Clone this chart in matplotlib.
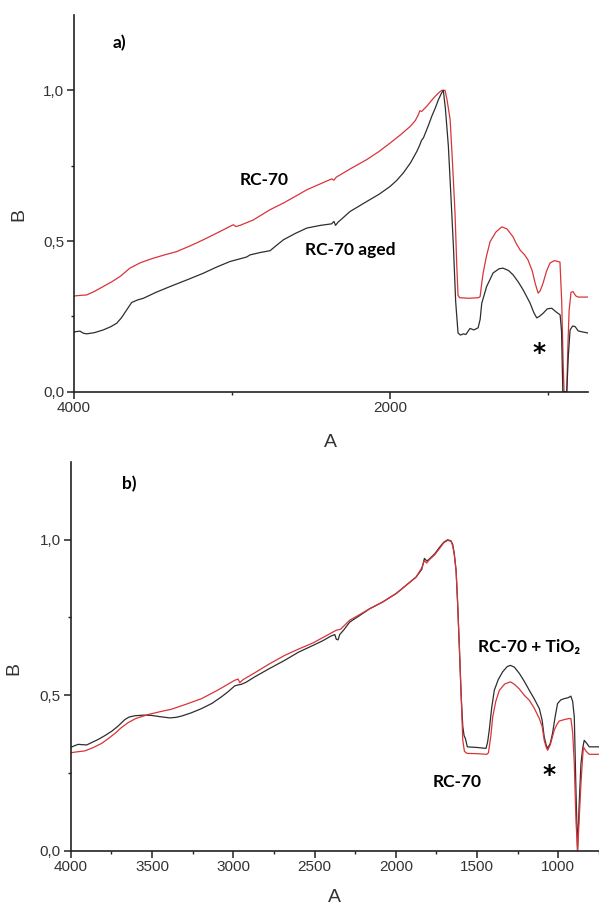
import numpy as np
import matplotlib
matplotlib.use("Agg")
import matplotlib.pyplot as plt
from matplotlib.ticker import FixedLocator, FuncFormatter

# === DATA ===
# panel a) - RC-70 (red) and RC-70 aged (black)
a_red_x = [4000, 3994, 3950, 3920, 3870, 3815, 3760, 3709, 3646, 3580, 3498, 3420, 3350, 3260,
           3182, 3090, 2992, 2975, 2949, 2865, 2759, 2675, 2600, 2527, 2440, 2370, 2355, 2340,
           2250, 2148, 2070, 2000, 1935, 1873, 1840, 1821, 1812, 1800, 1768, 1740, 1715, 1690,
           1673, 1652, 1640, 1620, 1605, 1589, 1578, 1570, 1560, 1500, 1440, 1430, 1420, 1411,
           1390, 1367, 1330, 1293, 1260, 1222, 1200, 1177, 1150, 1127, 1100, 1082, 1063, 1050,
           1032, 1010, 988, 960, 937, 925, 914, 905, 899, 882, 875, 867, 855, 842, 825, 810, 750]
a_red_y = [0.316, 0.318, 0.320, 0.321, 0.333, 0.349, 0.365, 0.382, 0.410, 0.428, 0.443, 0.455, 0.465, 0.485,
           0.504, 0.528, 0.554, 0.548, 0.552, 0.570, 0.604, 0.626, 0.648, 0.670, 0.690, 0.706, 0.702, 0.712,
           0.740, 0.770, 0.797, 0.825, 0.852, 0.880, 0.900, 0.919, 0.932, 0.930, 0.947, 0.965, 0.980, 0.993,
           1.000, 1.000, 0.970, 0.903, 0.760, 0.593, 0.420, 0.320, 0.312, 0.310, 0.312, 0.316, 0.360, 0.394,
           0.450, 0.498, 0.530, 0.547, 0.540, 0.514, 0.490, 0.470, 0.455, 0.437, 0.400, 0.360, 0.327, 0.335,
           0.360, 0.400, 0.427, 0.435, 0.432, 0.430, 0.300, 0.100, 0.000, 0.000, 0.150, 0.270, 0.330, 0.332,
           0.318, 0.314, 0.314]

a_blk_x = [4000, 3994, 3962, 3940, 3920, 3870, 3815, 3770, 3730, 3700, 3667, 3635, 3600, 3561,
           3480, 3392, 3290, 3182, 3100, 3013, 2907, 2886, 2820, 2759, 2720, 2675, 2600, 2527,
           2440, 2370, 2355, 2345, 2330, 2253, 2148, 2070, 2000, 1960, 1916, 1870, 1831, 1815,
           1800, 1789, 1760, 1736, 1715, 1694, 1675, 1663, 1650, 1631, 1615, 1599, 1585, 1570,
           1555, 1535, 1520, 1494, 1470, 1443, 1430, 1420, 1389, 1348, 1310, 1285, 1250, 1222,
           1190, 1158, 1135, 1114, 1090, 1072, 1055, 1032, 1005, 977, 950, 924, 915, 907,
           882, 872, 861, 845, 829, 810, 797, 750]
a_blk_y = [0.195, 0.199, 0.201, 0.194, 0.192, 0.196, 0.205, 0.215, 0.227, 0.245, 0.271, 0.296, 0.304, 0.310,
           0.330, 0.349, 0.370, 0.393, 0.413, 0.432, 0.447, 0.454, 0.462, 0.468, 0.485, 0.504, 0.525, 0.543,
           0.552, 0.557, 0.565, 0.552, 0.562, 0.598, 0.631, 0.655, 0.681, 0.700, 0.726, 0.760, 0.797, 0.815,
           0.835, 0.842, 0.880, 0.914, 0.940, 0.969, 0.990, 1.000, 0.940, 0.814, 0.650, 0.480, 0.300, 0.195,
           0.188, 0.192, 0.190, 0.210, 0.205, 0.212, 0.240, 0.293, 0.349, 0.394, 0.408, 0.410, 0.402, 0.388,
           0.365, 0.338, 0.315, 0.294, 0.262, 0.245, 0.250, 0.260, 0.275, 0.277, 0.265, 0.255, 0.200, 0.000,
           0.000, 0.120, 0.205, 0.218, 0.216, 0.202, 0.200, 0.195]

# panel b) - RC-70 (red) and RC-70 + TiO2 (black)
b_red_x = [4000, 3960, 3912, 3860, 3810, 3770, 3728, 3690, 3646, 3600, 3523, 3450, 3380, 3290,
           3195, 3100, 2991, 2970, 2960, 2940, 2868, 2780, 2684, 2600, 2510, 2440, 2366, 2340,
           2284, 2220, 2161, 2080, 1998, 1940, 1875, 1840, 1824, 1810, 1793, 1760, 1732, 1705,
           1681, 1660, 1650, 1640, 1629, 1620, 1609, 1598, 1588, 1578, 1568, 1560, 1500, 1440,
           1430, 1415, 1404, 1385, 1363, 1330, 1295, 1270, 1240, 1210, 1179, 1150, 1117, 1100,
           1087, 1075, 1066, 1050, 1025, 1010, 995, 960, 935, 923, 912, 902, 892, 882,
           872, 861, 852, 846, 830, 810, 750]
b_red_y = [0.315, 0.318, 0.321, 0.332, 0.345, 0.360, 0.377, 0.395, 0.412, 0.425, 0.438, 0.447, 0.455, 0.471,
           0.489, 0.515, 0.548, 0.552, 0.540, 0.550, 0.572, 0.600, 0.628, 0.648, 0.668, 0.688, 0.709, 0.712,
           0.741, 0.760, 0.778, 0.800, 0.827, 0.852, 0.880, 0.910, 0.933, 0.925, 0.936, 0.952, 0.971, 0.990,
           0.998, 0.995, 0.980, 0.950, 0.900, 0.800, 0.655, 0.500, 0.355, 0.320, 0.315, 0.313, 0.312, 0.310,
           0.315, 0.370, 0.430, 0.480, 0.516, 0.536, 0.543, 0.535, 0.520, 0.500, 0.484, 0.460, 0.425, 0.400,
           0.355, 0.333, 0.323, 0.340, 0.388, 0.405, 0.417, 0.422, 0.425, 0.425, 0.380, 0.280, 0.100, 0.000,
           0.100, 0.216, 0.290, 0.334, 0.320, 0.310, 0.310]

b_blk_x = [4000, 3975, 3953, 3902, 3870, 3830, 3790, 3748, 3710, 3666, 3640, 3605, 3550, 3502,
           3450, 3390, 3350, 3318, 3260, 3195, 3130, 3072, 3030, 2991, 2970, 2950, 2920, 2868,
           2780, 2684, 2600, 2510, 2450, 2400, 2375, 2366, 2355, 2345, 2320, 2284, 2220, 2161,
           2080, 1998, 1940, 1875, 1840, 1824, 1810, 1800, 1760, 1732, 1705, 1681, 1660, 1650,
           1640, 1629, 1620, 1609, 1598, 1588, 1580, 1572, 1560, 1500, 1445, 1435, 1425, 1410,
           1394, 1370, 1343, 1315, 1295, 1270, 1240, 1210, 1179, 1150, 1117, 1100, 1087, 1075,
           1066, 1050, 1036, 1020, 1005, 985, 964, 940, 923, 912, 902, 892, 882, 872,
           861, 850, 841, 825, 810, 750]
b_blk_y = [0.332, 0.338, 0.342, 0.340, 0.348, 0.358, 0.370, 0.384, 0.400, 0.422, 0.430, 0.434, 0.436, 0.435,
           0.431, 0.427, 0.429, 0.433, 0.443, 0.457, 0.474, 0.495, 0.512, 0.530, 0.533, 0.535, 0.542, 0.559,
           0.585, 0.612, 0.638, 0.660, 0.675, 0.690, 0.695, 0.680, 0.678, 0.695, 0.710, 0.735, 0.757, 0.778,
           0.800, 0.827, 0.852, 0.880, 0.905, 0.940, 0.932, 0.935, 0.955, 0.975, 0.992, 1.000, 0.996, 0.985,
           0.955, 0.900, 0.800, 0.655, 0.500, 0.400, 0.370, 0.361, 0.334, 0.332, 0.329, 0.350, 0.388, 0.460,
           0.516, 0.550, 0.575, 0.592, 0.596, 0.590, 0.570, 0.545, 0.516, 0.490, 0.457, 0.420, 0.366, 0.340,
           0.329, 0.345, 0.377, 0.430, 0.473, 0.485, 0.489, 0.492, 0.497, 0.480, 0.430, 0.200, 0.000, 0.150,
           0.280, 0.330, 0.355, 0.345, 0.334, 0.334]

RED = "#d8343a"
BLK = "#2e2e2e"
TXT = "#333333"
ANN = ["Lato", "DejaVu Sans"]

plt.rcParams["font.family"] = ["Liberation Sans", "DejaVu Sans"]

fig = plt.figure(figsize=(5.99, 9.08), dpi=100)
ax1 = fig.add_axes([0.1235, 0.5686, 0.8575, 0.4149])
ax2 = fig.add_axes([0.118, 0.0631, 0.882, 0.4281])

comma = FuncFormatter(lambda v, p: f"{v:.1f}".replace(".", ","))


def style_axes(ax, xmajor, xminor):
    ax.set_xlim(4000, 750)
    ax.set_ylim(0, 1.25)
    for s in ("top", "right"):
        ax.spines[s].set_visible(False)
    for s in ("left", "bottom"):
        ax.spines[s].set_linewidth(1.2)
        ax.spines[s].set_color("#222222")
    ax.xaxis.set_major_locator(FixedLocator(xmajor))
    ax.xaxis.set_minor_locator(FixedLocator(xminor))
    ax.yaxis.set_major_locator(FixedLocator([0.0, 0.5, 1.0]))
    ax.yaxis.set_minor_locator(FixedLocator([0.25, 0.75]))
    ax.yaxis.set_major_formatter(comma)
    ax.tick_params(which="major", direction="out", length=5, width=1.1, labelsize=11,
                   labelcolor=TXT, color="#222222", pad=2)
    ax.tick_params(which="minor", direction="out", length=2.5, width=1.0, color="#222222")
    ax.set_xlabel("A", fontsize=14, color=TXT)
    ax.set_ylabel("B", fontsize=14, color=TXT)


# === a) ===
style_axes(ax1, [4000, 2000], [3000, 1000])
ax1.plot(a_red_x, a_red_y, color=RED, lw=0.9)
ax1.plot(a_blk_x, a_blk_y, color=BLK, lw=0.9)
ax1.xaxis.set_label_coords(0.5, -0.112)
ax1.yaxis.set_label_coords(-0.09, 0.47)
ax1.text(3753, 1.158, "a)", fontsize=12.5, fontweight="bold", family=ANN, va="center", ha="left")
ax1.text(2949, 0.703, "RC-70", fontsize=12.5, fontweight="bold", family=ANN, va="center", ha="left")
ax1.text(2538, 0.471, "RC-70 aged", fontsize=12.5, fontweight="bold", family=ANN, va="center", ha="left")
ax1.text(1057, 0.106, "*", fontsize=18, fontweight="bold", family="DejaVu Sans",
         va="baseline", ha="center")

# === b) ===
style_axes(ax2, [4000, 3500, 3000, 2500, 2000, 1500, 1000],
           [3750, 3250, 2750, 2250, 1750, 1250, 750])
ax2.plot(b_blk_x, b_blk_y, color=BLK, lw=0.9)
ax2.plot(b_red_x, b_red_y, color=RED, lw=0.9)
ax2.xaxis.set_label_coords(0.5, -0.098)
ax2.yaxis.set_label_coords(-0.092, 0.47)
ax2.text(3685, 1.18, "b)", fontsize=12.5, fontweight="bold", family=ANN, va="center", ha="left")
ax2.text(1492, 0.654, "RC-70 + TiO₂", fontsize=12.5, fontweight="bold", family=ANN, va="center", ha="left")
ax2.text(1775, 0.22, "RC-70", fontsize=12.5, fontweight="bold", family=ANN, va="center", ha="left")
ax2.text(1056, 0.221, "*", fontsize=18, fontweight="bold", family="DejaVu Sans",
         va="baseline", ha="center")

fig.savefig("out.png", dpi=100)
